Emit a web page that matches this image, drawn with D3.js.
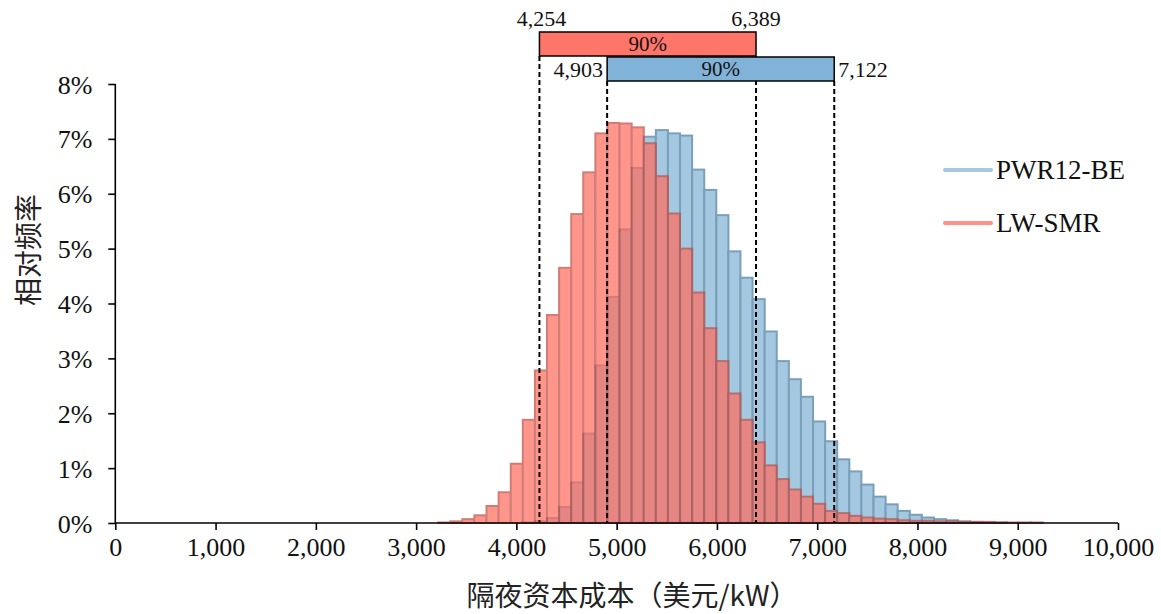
<!DOCTYPE html>
<html>
<head>
<meta charset="utf-8">
<script src="https://cdn.jsdelivr.net/npm/d3@7"></script>
<style>
  html, body { margin: 0; padding: 0; background: #fff; }
  svg { display: block; }
</style>
</head>
<body>
<svg id="chart" width="1161" height="614"></svg>
<script>
// ---------- data ----------
const binWidth = 120.6;
const binLower = [3220, 3341, 3461, 3582, 3702, 3823, 3944, 4064, 4185, 4305,
  4426, 4547, 4667, 4788, 4908, 5029, 5150, 5270, 5391, 5511,
  5632, 5753, 5873, 5994, 6114, 6235, 6356, 6476, 6597, 6717,
  6838, 6959, 7079, 7200, 7320, 7441, 7562, 7682, 7803, 7923,
  8044, 8165, 8285, 8406, 8526, 8647, 8768, 8888, 9009, 9129];

// relative frequency in percent
const pwrValues = [0, 0, 0, 0, 0, 0, 0, 0.01, 0.03, 0.09,
  0.29, 0.74, 1.63, 2.87, 4.12, 5.35, 6.47, 7.04, 7.16, 7.10,
  7.06, 6.44, 6.07, 5.61, 4.95, 4.47, 4.08, 3.49, 2.95, 2.62,
  2.30, 1.85, 1.49, 1.16, 0.94, 0.70, 0.48, 0.34, 0.22, 0.15,
  0.10, 0.07, 0.05, 0.03, 0.02, 0.01, 0.01, 0, 0, 0];
const smrValues = [0.01, 0.03, 0.07, 0.14, 0.31, 0.56, 1.08, 1.88, 2.78, 3.79,
  4.65, 5.63, 6.39, 7.10, 7.29, 7.28, 7.21, 6.92, 6.32, 5.64,
  5.00, 4.20, 3.55, 2.95, 2.36, 1.88, 1.47, 1.05, 0.80, 0.61,
  0.48, 0.35, 0.22, 0.18, 0.13, 0.10, 0.08, 0.07, 0.05, 0.04,
  0.04, 0.03, 0.03, 0.02, 0.02, 0.02, 0.01, 0.01, 0.01, 0.01];

const seriesNames = ["PWR12-BE", "LW-SMR"];

const smrInterval = [4230, 6390];
const smrIntervalLabels = ["4,254", "6,389"];
const pwrInterval = [4905, 7170];
const pwrIntervalLabels = ["4,903", "7,122"];
const intervalText = "90%";

const xTicks = [0, 1000, 2000, 3000, 4000, 5000, 6000, 7000, 8000, 9000, 10000];
const yTicks = [0, 1, 2, 3, 4, 5, 6, 7, 8];
const xTitle = "隔夜资本成本（美元/kW）";
const yTitle = "相对频率";

// ---------- drawing ----------
const svg = d3.select("#chart");
svg.append("rect").attr("width", 1161).attr("height", 614).attr("fill", "#fff");

const x = d3.scaleLinear().domain([0, 10000]).range([115.3, 1118]);
const y = d3.scaleLinear().domain([0, 8]).range([523, 84]);

const serif = "'Liberation Serif', 'Times New Roman', serif";
const cjk = "'Noto Sans CJK SC', 'Noto Sans', sans-serif";

const pwrData = binLower.map((b, i) => ({ x0: b, x1: b + binWidth, v: pwrValues[i] })).filter(d => d.v > 0);
const smrData = binLower.map((b, i) => ({ x0: b, x1: b + binWidth, v: smrValues[i] })).filter(d => d.v > 0);

// blue histogram
svg.append("g")
  .selectAll("rect").data(pwrData).join("rect")
  .attr("x", d => x(d.x0)).attr("width", d => x(d.x1) - x(d.x0))
  .attr("y", d => y(d.v)).attr("height", d => y(0) - y(d.v))
  .attr("fill", "#a5c8e1").attr("stroke", "#7a9fba").attr("stroke-width", 2);

// red histogram (semi-transparent, on top)
svg.append("g").attr("opacity", 0.72)
  .selectAll("rect").data(smrData).join("rect")
  .attr("x", d => x(d.x0)).attr("width", d => x(d.x1) - x(d.x0))
  .attr("y", d => y(d.v)).attr("height", d => y(0) - y(d.v))
  .attr("fill", "#ff6d5f").attr("stroke", "#be4c44").attr("stroke-width", 2);

// axes
const xAxis = svg.append("g").attr("transform", `translate(0,${y(0)})`)
  .call(d3.axisBottom(x).tickValues(xTicks).tickFormat(d3.format(",")).tickSize(7).tickPadding(8));
const yAxis = svg.append("g").attr("transform", `translate(${x(0)},0)`)
  .call(d3.axisLeft(y).tickValues(yTicks).tickFormat(d => d + "%").tickSize(7).tickPadding(16));
[xAxis, yAxis].forEach(g => {
  g.select(".domain").attr("stroke", "#000").attr("stroke-width", 1.6);
  g.selectAll(".tick line").attr("stroke", "#000").attr("stroke-width", 1.6);
  g.selectAll(".tick text").attr("fill", "#111").attr("font-family", serif).attr("font-size", 26);
});
xAxis.select(".domain").attr("d", `M${x(0)},0H${x(10000)}`);
yAxis.select(".domain").attr("d", `M0,${y(8)}V${y(0)}`);
xAxis.selectAll(".tick text").attr("dy", "0.71em");
yAxis.selectAll(".tick text").attr("dy", "0.35em");

// dashed interval lines
const boxH = 24;
const redTop = 32, blueTop = 57;
const dashLines = [
  { v: smrInterval[0], top: redTop + boxH },
  { v: smrInterval[1], top: redTop + boxH },
  { v: pwrInterval[0], top: blueTop + boxH },
  { v: pwrInterval[1], top: blueTop + boxH }
];
svg.append("g").selectAll("line").data(dashLines).join("line")
  .attr("x1", d => x(d.v)).attr("x2", d => x(d.v))
  .attr("y1", d => d.top).attr("y2", y(0))
  .attr("stroke", "#000").attr("stroke-width", 2).attr("stroke-dasharray", "5,3");

// interval boxes
const boxes = [
  { iv: smrInterval, labels: smrIntervalLabels, top: redTop, fill: "#ff7569", lblPos: "above" },
  { iv: pwrInterval, labels: pwrIntervalLabels, top: blueTop, fill: "#80b3d7", lblPos: "side" }
];
const bg = svg.append("g");
boxes.forEach(b => {
  bg.append("rect")
    .attr("x", x(b.iv[0])).attr("y", b.top)
    .attr("width", x(b.iv[1]) - x(b.iv[0])).attr("height", boxH)
    .attr("fill", b.fill).attr("stroke", "#000").attr("stroke-width", 1.5);
  bg.append("text")
    .attr("x", (x(b.iv[0]) + x(b.iv[1])) / 2).attr("y", b.top + boxH / 2)
    .attr("dy", "0.35em").attr("text-anchor", "middle")
    .attr("font-family", serif).attr("font-size", 21).attr("fill", "#111")
    .text(intervalText);
  if (b.lblPos === "above") {
    bg.append("text").attr("x", x(b.iv[0]) + 2).attr("y", b.top - 6)
      .attr("text-anchor", "middle").attr("font-family", serif).attr("font-size", 22).attr("fill", "#111")
      .text(b.labels[0]);
    bg.append("text").attr("x", x(b.iv[1])).attr("y", b.top - 6)
      .attr("text-anchor", "middle").attr("font-family", serif).attr("font-size", 22).attr("fill", "#111")
      .text(b.labels[1]);
  } else {
    bg.append("text").attr("x", x(b.iv[0]) - 4).attr("y", b.top + boxH / 2)
      .attr("dy", "0.35em").attr("text-anchor", "end").attr("font-family", serif).attr("font-size", 22).attr("fill", "#111")
      .text(b.labels[0]);
    bg.append("text").attr("x", x(b.iv[1]) + 4).attr("y", b.top + boxH / 2)
      .attr("dy", "0.35em").attr("text-anchor", "start").attr("font-family", serif).attr("font-size", 22).attr("fill", "#111")
      .text(b.labels[1]);
  }
});

// legend
const legendColors = ["#a7c8e0", "#ff8f88"];
const legend = svg.append("g");
seriesNames.forEach((name, i) => {
  const ly = 170 + i * 53;
  legend.append("line").attr("x1", 945).attr("x2", 991).attr("y1", ly).attr("y2", ly)
    .attr("stroke", legendColors[i]).attr("stroke-width", 4).attr("stroke-linecap", "round");
  legend.append("text").attr("x", 996).attr("y", ly).attr("dy", "0.35em")
    .attr("font-family", serif).attr("font-size", 27).attr("fill", "#111").text(name);
});

// axis titles
svg.append("text").attr("x", 632).attr("y", 606).attr("text-anchor", "middle")
  .attr("font-family", cjk).attr("font-size", 28).attr("fill", "#222").text(xTitle);
svg.append("text").attr("transform", "translate(29,250) rotate(-90)")
  .attr("text-anchor", "middle").attr("dy", "0.35em")
  .attr("font-family", cjk).attr("font-size", 28).attr("fill", "#222").text(yTitle);
</script>
</body>
</html>
